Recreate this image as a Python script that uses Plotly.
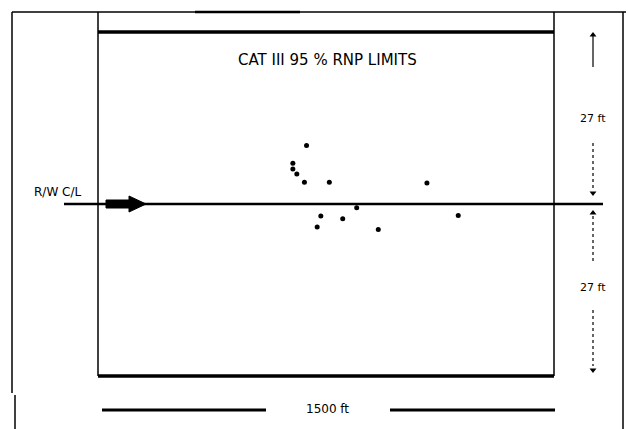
import plotly.graph_objects as go

# Touchdown points: distance along runway (ft, from box start) and lateral offset (ft, + = left of C/L)
touch_x = [686, 641, 641, 654, 679, 761, 1082, 733, 805, 721, 922, 1185, 851]
touch_y = [9.2, 6.4, 5.5, 4.7, 3.4, 3.4, 3.3, -1.9, -2.3, -3.6, -4.0, -1.8, -0.6]

box_length = 1500   # ft
limit = 27          # ft
title_text = "CAT III 95 % RNP LIMITS"
cl_label = "R/W C/L"
lat_label = "27 ft"
len_label = "1500 ft"

W, H = 628, 429
# pixel mapping: x_ft 0 -> px 98, 1500 -> px 554 ; y_ft 0 -> py 204, 27 -> py 32
sx = box_length / 456.0
sy = limit / 172.0
x0 = -98 * sx
x1 = (W - 98) * sx
ytop = 204 * sy
ybot = -(H - 204) * sy

def X(px):
    return (px - 98) * sx

def Y(py):
    return (204 - py) * sy

fig = go.Figure()

fig.add_trace(go.Scatter(x=touch_x, y=touch_y, mode="markers",
                         marker=dict(color="black", size=5), showlegend=False))

shapes = []
blk = "black"
# outer frame (paper)
shapes.append(dict(type="line", xref="paper", yref="paper",
                   x0=12 / W, x1=626 / W, y0=1 - 12 / H, y1=1 - 12 / H, line=dict(color=blk, width=1.5)))
shapes.append(dict(type="line", xref="paper", yref="paper",
                   x0=195 / W, x1=300 / W, y0=1 - 12 / H, y1=1 - 12 / H, line=dict(color=blk, width=2.5)))
shapes.append(dict(type="line", xref="paper", yref="paper",
                   x0=12 / W, x1=12 / W, y0=1 - 12 / H, y1=1 - 393 / H, line=dict(color=blk, width=1.5)))
shapes.append(dict(type="line", xref="paper", yref="paper",
                   x0=15 / W, x1=15 / W, y0=1 - 395 / H, y1=0, line=dict(color=blk, width=1.5)))
shapes.append(dict(type="line", xref="paper", yref="paper",
                   x0=623 / W, x1=623 / W, y0=1 - 12 / H, y1=0, line=dict(color=blk, width=1.5)))

# limit box
shapes.append(dict(type="line", x0=0, x1=box_length, y0=limit, y1=limit, line=dict(color=blk, width=3.5)))
shapes.append(dict(type="line", x0=0, x1=box_length, y0=-limit, y1=-limit, line=dict(color=blk, width=3.5)))
shapes.append(dict(type="line", x0=0, x1=0, y0=Y(12), y1=-limit, line=dict(color=blk, width=1.5)))
shapes.append(dict(type="line", x0=box_length, x1=box_length, y0=Y(12), y1=-limit, line=dict(color=blk, width=1.5)))

# centreline
shapes.append(dict(type="line", x0=X(64), x1=X(603), y0=0, y1=0, line=dict(color=blk, width=2.5)))
# approach arrow
shapes.append(dict(type="path",
                   path=f"M {X(106)},{Y(200)} L {X(129)},{Y(200)} L {X(129)},{Y(196)} L {X(146)},{Y(204)} "
                        f"L {X(129)},{Y(212)} L {X(129)},{Y(208)} L {X(106)},{Y(208)} Z",
                   fillcolor=blk, line=dict(color=blk, width=1)))

# right dimension lines
xd = X(593)
shapes.append(dict(type="line", x0=xd, x1=xd, y0=Y(36), y1=Y(67), line=dict(color=blk, width=1.2)))
shapes.append(dict(type="line", x0=xd, x1=xd, y0=Y(143), y1=Y(190), line=dict(color=blk, width=1.2, dash="dot")))
shapes.append(dict(type="line", x0=xd, x1=xd, y0=Y(216), y1=Y(263), line=dict(color=blk, width=1.2, dash="dot")))
shapes.append(dict(type="line", x0=xd, x1=xd, y0=Y(310), y1=Y(366), line=dict(color=blk, width=1.2, dash="dot")))

# bottom dimension lines
shapes.append(dict(type="line", x0=X(102), x1=X(266), y0=Y(410), y1=Y(410), line=dict(color=blk, width=3)))
shapes.append(dict(type="line", x0=X(390), x1=X(555), y0=Y(410), y1=Y(410), line=dict(color=blk, width=3)))

# arrowheads of the dimension lines
fig.add_trace(go.Scatter(x=[xd, xd], y=[Y(35), Y(213)], mode="markers",
                         marker=dict(symbol="triangle-up", size=6, color=blk), showlegend=False))
fig.add_trace(go.Scatter(x=[xd, xd], y=[Y(193), Y(370)], mode="markers",
                         marker=dict(symbol="triangle-down", size=6, color=blk), showlegend=False))

font = "DejaVu Sans"
annotations = [
    dict(x=X(327), y=Y(60), text=title_text, showarrow=False,
         font=dict(family=font, size=15, color=blk)),
    dict(x=X(57), y=Y(192), text=cl_label, showarrow=False,
         font=dict(family=font, size=12, color=blk)),
    dict(x=xd, y=Y(118), text=lat_label, showarrow=False,
         font=dict(family=font, size=11, color=blk)),
    dict(x=xd, y=Y(287), text=lat_label, showarrow=False,
         font=dict(family=font, size=11, color=blk)),
    dict(x=X(327), y=Y(409), text=len_label, showarrow=False,
         font=dict(family=font, size=12, color=blk)),
]

fig.update_layout(
    width=W, height=H,
    margin=dict(l=0, r=0, t=0, b=0),
    paper_bgcolor="white", plot_bgcolor="white",
    xaxis=dict(range=[x0, x1], visible=False, fixedrange=True),
    yaxis=dict(range=[ybot, ytop], visible=False, fixedrange=True),
    shapes=shapes, annotations=annotations, showlegend=False,
)

fig.write_html("out.html", config={"displayModeBar": False},
               post_script="document.body.style.margin='0';")
